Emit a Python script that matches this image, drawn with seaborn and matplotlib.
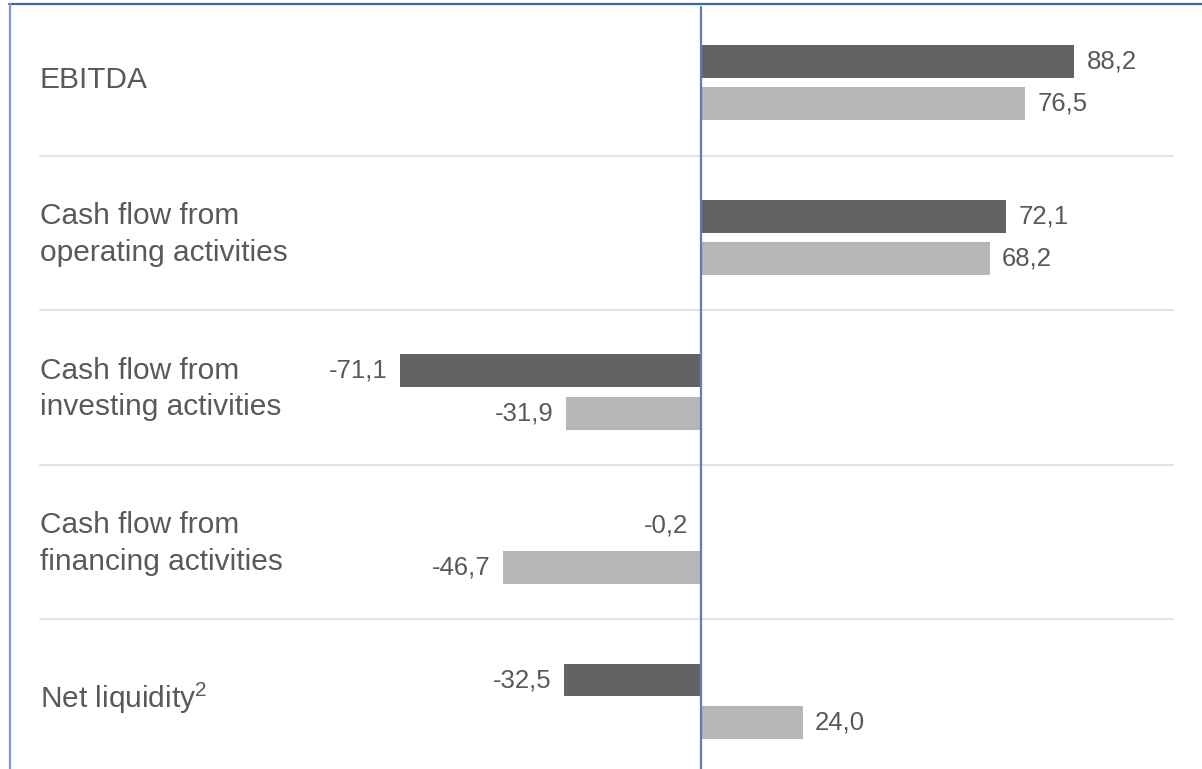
import matplotlib
matplotlib.use("Agg")
import matplotlib.pyplot as plt
import seaborn as sns
import pandas as pd

# Categories (top to bottom) and the two periods' values in EUR m
categories = [
    "EBITDA",
    "Cash flow from\noperating activities",
    "Cash flow from\ninvesting activities",
    "Cash flow from\nfinancing activities",
    "Net liquidity$^{\\mathrm{2}}$",
]
periods = ["current", "previous"]
current_values = [88.2, 72.1, -71.1, -0.2, -32.5]
previous_values = [76.5, 68.2, -31.9, -46.7, 24.0]

sns.set_style("white")
plt.rcParams["font.family"] = ["Liberation Sans", "DejaVu Sans"]
plt.rcParams["mathtext.fontset"] = "custom"
plt.rcParams["mathtext.rm"] = "Liberation Sans"
plt.rcParams["mathtext.it"] = "Liberation Sans:italic"

df = pd.DataFrame({
    "category": categories * 2,
    "period": [periods[0]] * len(categories) + [periods[1]] * len(categories),
    "value": current_values + previous_values,
})

W, H = 1202, 769
fig = plt.figure(figsize=(W / 100, H / 100), dpi=100)
ax = fig.add_axes([0, 0, 1, 1])

sns.barplot(
    data=df, y="category", x="value", hue="period",
    order=categories, hue_order=periods,
    palette=["#636363", "#b6b6b6"], orient="h",
    width=0.544, gap=0.215, legend=False, ax=ax,
    saturation=1, linewidth=0,
)

ax.set_xlim(-165.7, 118.4)
ax.set_ylim(4.44, -0.537)
for s in ax.spines.values():
    s.set_visible(False)
ax.set_xticks([])
ax.set_yticks([])
ax.set_xlabel("")
ax.set_ylabel("")

text_color = "#595959"

# Value labels with decimal comma
for container, vals in zip(ax.containers, [current_values, previous_values]):
    ax.bar_label(container, labels=[f"{v:.1f}".replace(".", ",") for v in vals],
                 padding=9, fontsize=18.5, color=text_color)

# Category names at the left
for i, name in enumerate(categories):
    ax.text(40 / W, i - 0.02, name, transform=ax.get_yaxis_transform(),
            ha="left", va="center", fontsize=21.5, color=text_color,
            linespacing=1.38)

# Thin separators between the groups
for i in range(len(categories) - 1):
    ax.axhline(i + 0.47, xmin=40 / W, xmax=1173 / W, color="#e3e3e3", lw=1.5, zorder=0)

# Zero line
ax.axvline(0, ymin=0, ymax=1 - 7 / H, color="#5f7fb4", lw=1.6, zorder=3)

# Frame lines on top and left
ax.plot([9 / W, 1], [1 - 4 / H, 1 - 4 / H], transform=ax.transAxes,
        color="#3d66aa", lw=1.6, clip_on=False)
ax.plot([10 / W, 10 / W], [0, 1 - 4 / H], transform=ax.transAxes,
        color="#7c9ccb", lw=1.6, clip_on=False)

fig.savefig("out.png", dpi=100)
